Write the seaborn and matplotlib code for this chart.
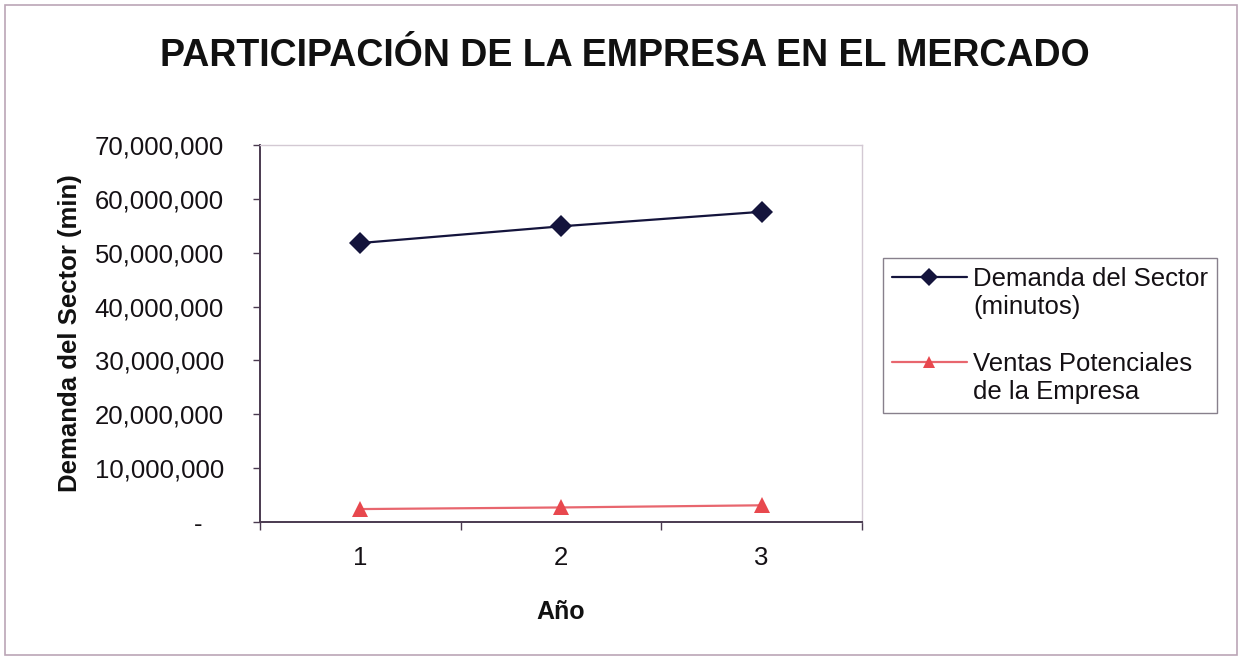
import matplotlib
matplotlib.use("Agg")
import matplotlib.pyplot as plt
from matplotlib.lines import Line2D
from matplotlib.patches import Rectangle
from matplotlib.ticker import FixedLocator, FuncFormatter
import seaborn as sns
import pandas as pd

# Series data
years = [1, 2, 3]
demanda_sector = [51_800_000, 54_900_000, 57_600_000]
ventas_empresa = [2_400_000, 2_700_000, 3_100_000]
serie_names = ["Demanda del Sector", "Ventas Potenciales"]
legend_lines = [["Demanda del Sector", "(minutos)"],
                ["Ventas Potenciales", "de la Empresa"]]
title = "PARTICIPACIÓN DE LA EMPRESA EN EL MERCADO"
y_label = "Demanda del Sector (min)"
x_label = "Año"

df = pd.DataFrame({
    "Año": years * 2,
    "valor": demanda_sector + ventas_empresa,
    "serie": [serie_names[0]] * 3 + [serie_names[1]] * 3,
})

sns.set_theme(style="white")
plt.rcParams["font.family"] = ["Liberation Sans", "DejaVu Sans"]

fig = plt.figure(figsize=(12.42, 6.6), dpi=100)
ax = fig.add_axes([260 / 1242, 1 - 522 / 660, 602 / 1242, 377 / 660])

line_colors = {serie_names[0]: "#14143c", serie_names[1]: "#e8666e"}
marker_colors = {serie_names[0]: "#14143c", serie_names[1]: "#e8484e"}
markers = {serie_names[0]: "D", serie_names[1]: "^"}
sns.lineplot(data=df, x="Año", y="valor", hue="serie", style="serie",
             palette=line_colors, markers=markers, dashes=False, ax=ax,
             markersize=11, linewidth=1.6, markeredgewidth=0, legend=False)

series_lines = ax.get_lines()[:2]
for line, name in zip(series_lines, serie_names):
    line.set_markerfacecolor(marker_colors[name])

ax.set_xlim(0.5, 3.5)
ax.set_ylim(0, 70_000_000)
ax.xaxis.set_major_locator(FixedLocator(years))
ax.xaxis.set_minor_locator(FixedLocator([0.5, 1.5, 2.5, 3.5]))
ax.yaxis.set_major_locator(FixedLocator(range(0, 70_000_001, 10_000_000)))


def fmt(v, pos):
    if v == 0:
        return "-   "
    return f"{int(v):,}"


ax.yaxis.set_major_formatter(FuncFormatter(fmt))
ax.tick_params(axis="x", which="major", length=0, pad=17, labelsize=18.5,
               labelcolor="#141014")
ax.tick_params(axis="x", which="minor", length=6, width=1, color="#4a3a50",
               direction="out", bottom=True)
ax.tick_params(axis="y", which="major", length=5, width=1, color="#4a3a50",
               direction="out", left=True, pad=21, labelsize=18.5,
               labelcolor="#141014")

for side in ("top", "right"):
    ax.spines[side].set_color("#d3c9d3")
    ax.spines[side].set_linewidth(1.0)
for side in ("left", "bottom"):
    ax.spines[side].set_color("#4a3a50")
    ax.spines[side].set_linewidth(1.4)

ax.set_xlabel(x_label, fontsize=18, fontweight="bold", labelpad=22,
              color="#111111")
ax.set_ylabel(y_label, fontsize=18.5, fontweight="bold", labelpad=9,
              color="#111111")

fig.text(0.503, 0.915, title, ha="center", va="center", fontsize=27,
         fontweight="bold", color="#111111")

# Legend: marker sits beside the first line of each two-line entry
blank = Line2D([], [], linestyle="none", marker=None)
handles, labels = [], []
for i, (line, name) in enumerate(zip(series_lines, serie_names)):
    h = Line2D([], [], color=line_colors[name], linewidth=1.6,
               marker=markers[name], markersize=9,
               markerfacecolor=marker_colors[name], markeredgewidth=0)
    handles += [h, blank]
    labels += legend_lines[i]
    if i == 0:
        handles.append(blank)
        labels.append(" ")
leg = fig.legend(handles, labels, loc="upper left",
                 bbox_to_anchor=(883 / 1242, 1 - 258 / 660),
                 fontsize=18.5, frameon=True, fancybox=False,
                 edgecolor="#6a6070", handlelength=2.9, labelspacing=0.17,
                 borderpad=0.35, handletextpad=0.25, borderaxespad=0)
leg.get_frame().set_linewidth(1.0)
for t in leg.get_texts():
    t.set_color("#141014")

# Outer chart border
fig.patches.append(Rectangle((5 / 1242, 5 / 660), 1232 / 1242, 650 / 660,
                             transform=fig.transFigure, fill=False,
                             edgecolor="#bba6b6", linewidth=1.2))

fig.savefig("out.png", dpi=100)
